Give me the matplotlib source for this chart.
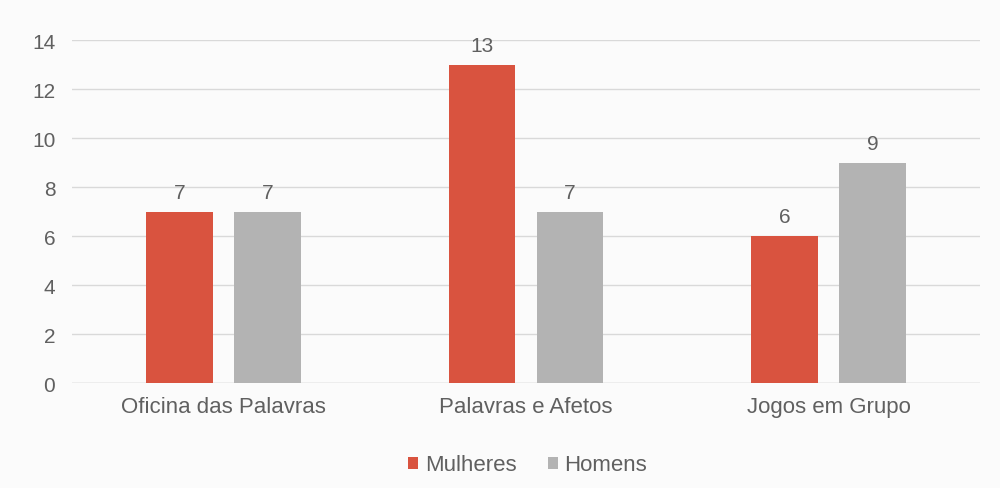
import numpy as np
import matplotlib.pyplot as plt

plt.rcParams['font.family'] = ['Liberation Sans', 'DejaVu Sans']

categorias = ['Oficina das Palavras', 'Palavras e Afetos', 'Jogos em Grupo']
mulheres = [7, 13, 6]
homens = [7, 7, 9]

cor_m = '#D9533F'
cor_h = '#B3B3B3'
cor_txt = '#606060'

fig = plt.figure(figsize=(10, 4.89), dpi=100, facecolor='#FBFBFB')
ax = fig.add_axes([0.072, 0.2147, 0.908, 0.7013], facecolor='#FBFBFB')

x = np.arange(len(categorias))
w = 0.22
off = 0.145
b1 = ax.bar(x - off, mulheres, w, color=cor_m, label='Mulheres', zorder=3)
b2 = ax.bar(x + off, homens, w, color=cor_h, label='Homens', zorder=3)

for bars in (b1, b2):
    for b in bars:
        ax.text(b.get_x() + b.get_width() / 2, b.get_height() + 0.4, str(int(b.get_height())),
                ha='center', va='bottom', fontsize=15, color=cor_txt)

ax.set_xlim(-0.5, 2.5)
ax.set_ylim(0, 14)
ax.set_yticks(np.arange(0, 15, 2))
ax.set_xticks(x)
ax.set_xticklabels(categorias, fontsize=16)
ax.tick_params(axis='both', length=0, labelcolor=cor_txt)
ax.tick_params(axis='y', pad=12, labelsize=15)
ax.tick_params(axis='x', pad=9)
ax.grid(axis='y', color='#D9D9D9', linewidth=1, zorder=0)
for s in ax.spines.values():
    s.set_visible(False)
ax.axhline(0, color='#D0D0D0', linewidth=1, zorder=1)

ax.legend(loc='upper center', bbox_to_anchor=(0.502, -0.15), ncol=2, frameon=False,
          fontsize=16, labelcolor=cor_txt, handlelength=0.45, handleheight=0.45,
          handletextpad=0.3, columnspacing=1.4)

fig.savefig('out.png', dpi=100, facecolor=fig.get_facecolor())
